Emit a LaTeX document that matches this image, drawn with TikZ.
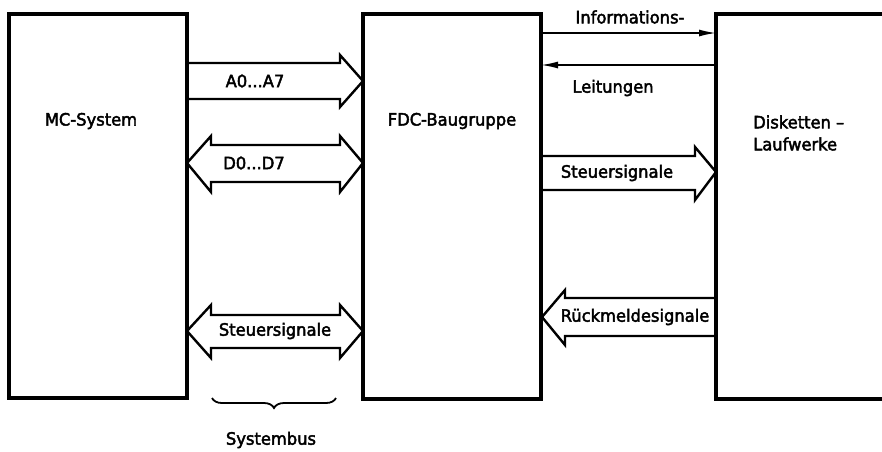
\documentclass[tikz,border=0pt]{standalone}
\usepackage{fontspec}
\setmainfont[FakeBold=2.5,FakeStretch=0.96]{DejaVu Sans}
\usetikzlibrary{arrows.meta,decorations.pathreplacing}
\begin{document}
\begin{tikzpicture}[x=1pt,y=-1pt,
  box/.style={draw,line width=3.2pt,inner sep=0pt,outer sep=0pt},
  fat/.style={draw,line width=2.4pt,line join=miter},
  thinarr/.style={line width=1.6pt,-{Latex[length=17pt,width=7pt]}},
  lbl/.style={font=\fontsize{17}{22}\selectfont,inner sep=0pt}]
\clip (0,0) rectangle (882,451);
\fill[white] (0,0) rectangle (882,451);
% boxes
\node[box,minimum width=178pt,minimum height=384pt] (mc) at (98,206) {};
\node[box,minimum width=178pt,minimum height=385pt] (fdc) at (452,206.5) {};
\node[box,minimum width=190pt,minimum height=385pt] (disk) at (811,206.5) {};
% box labels
\node[lbl] (mcl) at (91,121) {MC-System};
\node[lbl] (fdcl) at (452,121) {FDC-Baugruppe};
\node[lbl,anchor=west,align=left] (diskl) at (753,133) {Disketten –\\Laufwerke};
% A0...A7
\draw[fat] (187,63) -- (340,63) -- (340,55) -- (363,81) -- (340,107) -- (340,99) -- (187,99);
\node[lbl] (a) at (255,81) {A0...A7};
% D0...D7
\draw[fat] (187,163) -- (211,136) -- (211,145) -- (340,145) -- (340,136) -- (363,163)
  -- (340,192) -- (340,182) -- (211,182) -- (211,192) -- cycle;
\node[lbl] (d) at (254,163) {D0...D7};
% Steuersignale left
\draw[fat] (187,331) -- (211,305) -- (211,315) -- (340,315) -- (340,305) -- (363,331)
  -- (340,358) -- (340,348) -- (211,348) -- (211,358) -- cycle;
\node[lbl] (s1) at (275,331) {Steuersignale};
% Steuersignale right
\draw[fat] (541,156) -- (695,156) -- (695,147) -- (716,172) -- (695,200) -- (695,190) -- (541,190);
\node[lbl] (s2) at (617,173) {Steuersignale};
% Rueckmeldesignale
\draw[fat] (716,298) -- (565,298) -- (565,290) -- (542,317) -- (565,345) -- (565,336) -- (716,336);
\node[lbl] (r) at (635,317) {Rückmeldesignale};
% Informations-Leitungen
\draw[thinarr] (fdc.east |- 0,33) -- (disk.west |- 0,33);
\draw[thinarr] (disk.west |- 0,65) -- (fdc.east |- 0,65);
\node[lbl] (inf) at (630,17) {Informations-};
\node[lbl] (leit) at (613,88) {Leitungen};
% Systembus
\draw[line width=1.8pt,decorate,decoration={brace,mirror,amplitude=10pt}]
  (212,398) -- (336,398);
\node[lbl] (sb) at (271,440) {Systembus};
\end{tikzpicture}
\end{document}
